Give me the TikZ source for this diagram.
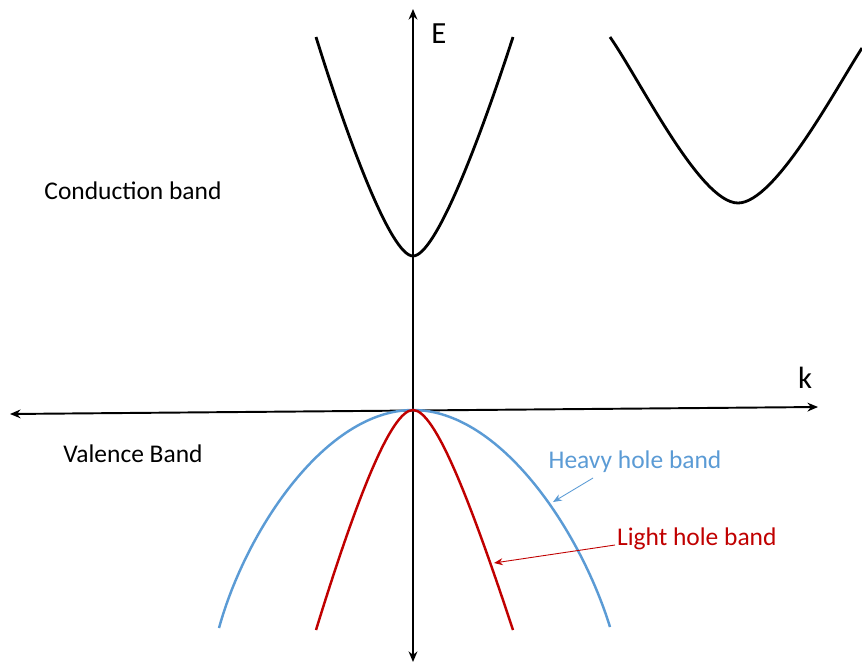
\documentclass[tikz,border=0pt]{standalone}
\usepackage{fontspec}
\setmainfont{Carlito}
\usepackage{xcolor}
\usetikzlibrary{arrows.meta, positioning}

\definecolor{hhblue}{RGB}{91,155,213}
\definecolor{lhred}{RGB}{192,0,0}

\begin{document}
\begin{tikzpicture}[
    x=0.02cm, y=-0.02cm,
    every node/.style={font=\fontsize{14.5}{17}\selectfont, inner sep=1pt},
    axislabel/.style={font=\fontsize{17.5}{20}\selectfont},
    axis/.style={line width=1.1pt, {Stealth[length=6pt,width=5pt]}-{Stealth[length=6pt,width=5pt]}},
    band/.style={line width=1.6pt, black},
    heavy/.style={line width=1.4pt, hhblue},
    light/.style={line width=1.4pt, lhred},
    pointer/.style={line width=0.5pt, -{Stealth[length=5pt,width=4pt]}}
]
\useasboundingbox (0,0) rectangle (862,663);

% Axes
\coordinate (kleft) at (10,414);
\coordinate (kright) at (818,407);
\coordinate (ebottom) at (413,662);
\coordinate (etop) at (413,9);
\draw[axis] (kleft) -- (kright);
\draw[axis] (ebottom) -- (etop);

\node (elabel) [axislabel] at (439,34) {E};
\node (klabel) [axislabel] at (805,378) {k};

% Conduction band
\coordinate (cbmin) at (413,256);
\draw[band] (316,37) .. controls (348,140) and (391,256) .. (cbmin)
    .. controls (435,256) and (478,145) .. (513,37);
\coordinate (xmin) at (738,203);
\draw[band] (610,37) .. controls (640,80) and (700,203) .. (xmin)
    .. controls (775,203) and (835,90) .. (862,48);

% Valence band
\coordinate (vbmax) at (413,410);
\draw[heavy] (219,628) .. controls (246,530) and (326,410) .. (vbmax)
    .. controls (500,410) and (580,530) .. (610,627);
\draw[light] (316,630) .. controls (356,500) and (391,410) .. (vbmax)
    .. controls (435,410) and (470,500) .. (513,630);

% Labels
\node (cblabel) at (133,191) {Conduction band};
\node (vblabel) at (133,454) {Valence Band};
\node (hhlabel) [text=hhblue] at (635,462) {Heavy hole band};
\node (lhlabel) [text=lhred, anchor=west] at (615,539) {Light hole band};

% Arrows
\coordinate (hhstart) at (593,478);
\coordinate (hhtip) at (553,502);
\coordinate (lhtip) at (494,563);
\draw[pointer, hhblue] (hhstart) -- (hhtip);
\draw[pointer, lhred] (lhlabel.west) ++(0,6) -- (lhtip);

\end{tikzpicture}
\end{document}
